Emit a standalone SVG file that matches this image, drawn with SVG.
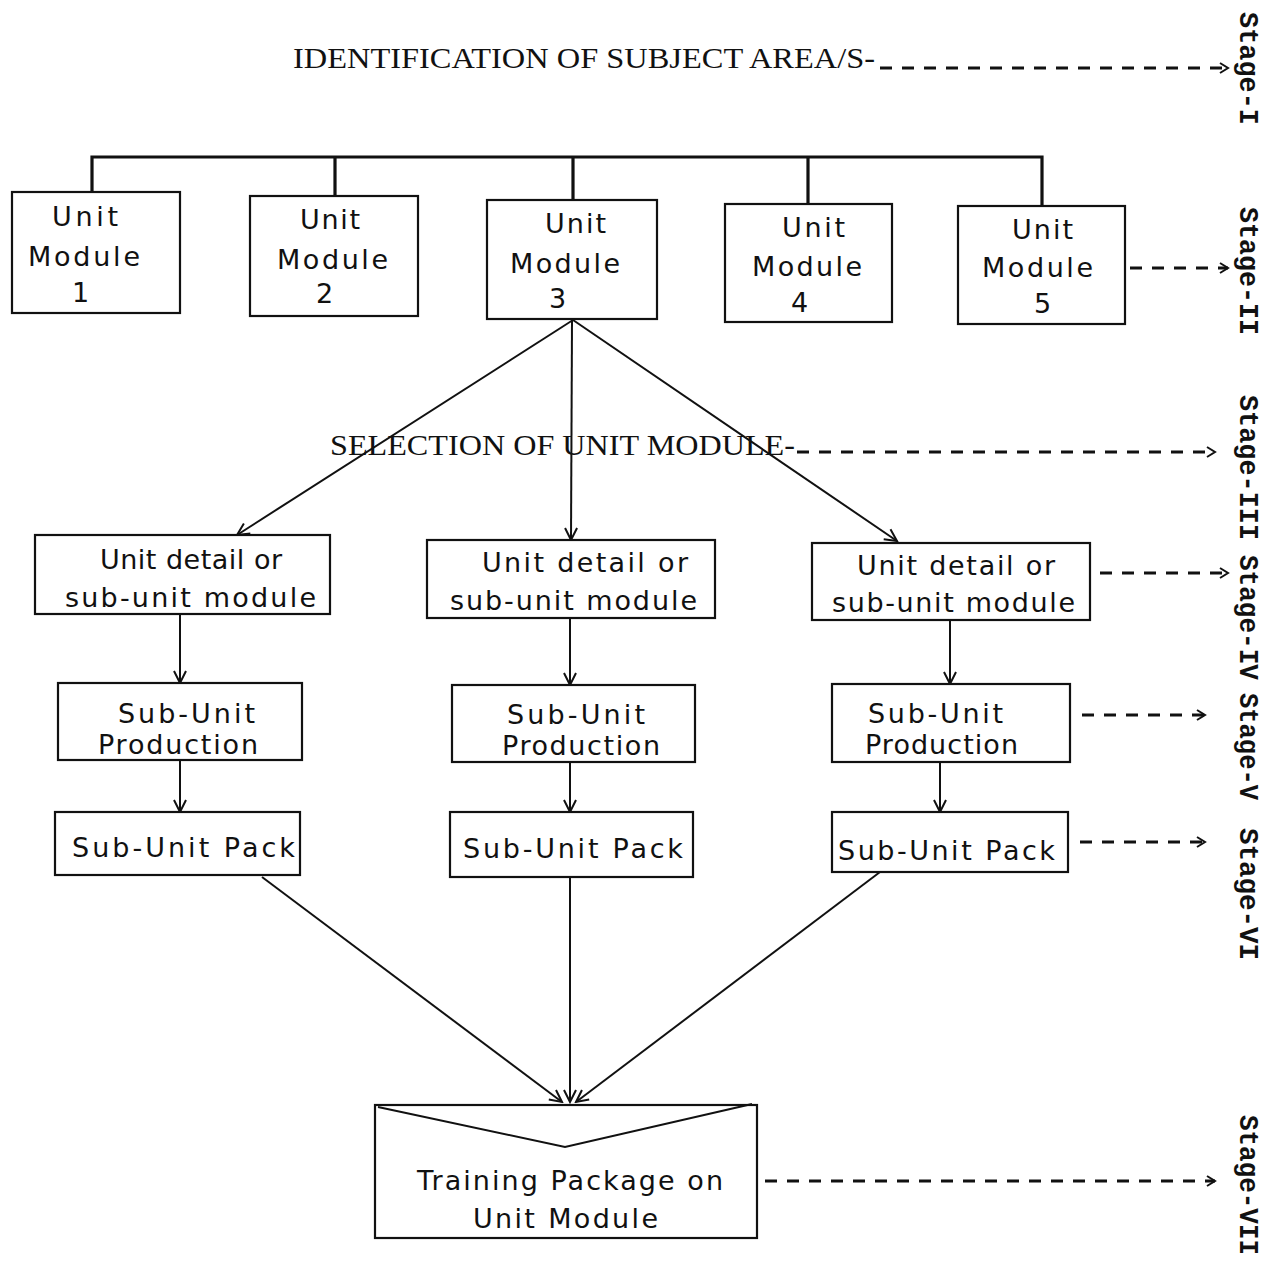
<svg xmlns="http://www.w3.org/2000/svg" width="1277" height="1263" viewBox="0 0 1277 1263">
<style>
.box{fill:#fff;stroke:#111;stroke-width:2.2}
.t{font-family:"DejaVu Sans",sans-serif;font-size:27px;fill:#111}
.ser{font-family:"Liberation Serif",serif;font-size:30px;fill:#111}
.stg{font-family:"Liberation Mono",monospace;font-size:27px;font-weight:bold;fill:#111}
.ln{stroke:#111;stroke-width:2;fill:none}
.bus{stroke:#111;stroke-width:3.2;fill:none}
.dash{stroke:#111;stroke-width:3;fill:none;stroke-dasharray:12 10}
</style>
<defs>
<marker id="ah" markerWidth="16" markerHeight="16" refX="14" refY="8" orient="auto" markerUnits="userSpaceOnUse">
<path d="M2,2 L14,8 L2,14" fill="none" stroke="#111" stroke-width="2"/>
</marker>
<marker id="ahs" markerWidth="12" markerHeight="12" refX="10" refY="6" orient="auto" markerUnits="userSpaceOnUse">
<path d="M2,1 L10,6 L2,11" fill="none" stroke="#111" stroke-width="2"/>
</marker>
</defs>
<rect width="1277" height="1263" fill="#fff"/>

<g id="connectors">
<path class="bus" d="M92,191 V157 H1042 V206"/>
<path class="bus" d="M335,157 V196 M573,157 V200 M808,157 V204"/>
<path class="ln" d="M573,320 L237,535" marker-end="url(#ah)"/>
<path class="ln" d="M572,320 L571,540" marker-end="url(#ah)"/>
<path class="ln" d="M573,320 L897,541" marker-end="url(#ah)"/>
<path class="ln" d="M180,614 V683" marker-end="url(#ah)"/>
<path class="ln" d="M180,760 V812" marker-end="url(#ah)"/>
<path class="ln" d="M570,618 V685" marker-end="url(#ah)"/>
<path class="ln" d="M570,762 V812" marker-end="url(#ah)"/>
<path class="ln" d="M950,620 V684" marker-end="url(#ah)"/>
<path class="ln" d="M940,762 V812" marker-end="url(#ah)"/>
<path class="ln" d="M262,877 L562,1102" marker-end="url(#ah)"/>
<path class="ln" d="M570,877 V1102" marker-end="url(#ah)"/>
<path class="ln" d="M880,872 L576,1102" marker-end="url(#ah)"/>
<path class="dash" d="M880,68 H1228" marker-end="url(#ahs)"/>
<path class="dash" d="M1130,268 H1228" marker-end="url(#ahs)"/>
<path class="dash" d="M797,452 H1215" marker-end="url(#ahs)"/>
<path class="dash" d="M1100,573 H1228" marker-end="url(#ahs)"/>
<path class="dash" d="M1082,715 H1205" marker-end="url(#ahs)"/>
<path class="dash" d="M1080,842 H1205" marker-end="url(#ahs)"/>
<path class="dash" d="M765,1181 H1215" marker-end="url(#ahs)"/>
</g>

<g id="title">
<text class="ser" x="293" y="68" textLength="582" lengthAdjust="spacingAndGlyphs">IDENTIFICATION OF SUBJECT AREA/S-</text>
</g>
<g id="selection">
<text class="ser" x="330" y="455" textLength="465" lengthAdjust="spacingAndGlyphs">SELECTION OF UNIT MODULE-</text>
</g>

<g id="um1"><rect class="box" x="12" y="192" width="168" height="121"/>
<text class="t" x="52" y="226" textLength="66">Unit</text><text class="t" x="28" y="266" textLength="112">Module</text><text class="t" x="72" y="302">1</text></g>
<g id="um2"><rect class="box" x="250" y="196" width="168" height="120"/>
<text class="t" x="300" y="229" textLength="60">Unit</text><text class="t" x="277" y="269" textLength="111">Module</text><text class="t" x="316" y="303">2</text></g>
<g id="um3"><rect class="box" x="487" y="200" width="170" height="119"/>
<text class="t" x="545" y="233" textLength="61">Unit</text><text class="t" x="510" y="273" textLength="110">Module</text><text class="t" x="549" y="308">3</text></g>
<g id="um4"><rect class="box" x="725" y="204" width="167" height="118"/>
<text class="t" x="782" y="237" textLength="63">Unit</text><text class="t" x="752" y="276" textLength="110">Module</text><text class="t" x="791" y="312">4</text></g>
<g id="um5"><rect class="box" x="958" y="206" width="167" height="118"/>
<text class="t" x="1012" y="239" textLength="61">Unit</text><text class="t" x="982" y="277" textLength="111">Module</text><text class="t" x="1034" y="313">5</text></g>

<g id="ud1"><rect class="box" x="35" y="535" width="295" height="79"/>
<text class="t" x="100" y="569" textLength="182">Unit detail or</text><text class="t" x="65" y="607" textLength="251">sub-unit module</text></g>
<g id="ud2"><rect class="box" x="427" y="540" width="288" height="78"/>
<text class="t" x="482" y="572" textLength="206">Unit detail or</text><text class="t" x="450" y="610" textLength="247">sub-unit module</text></g>
<g id="ud3"><rect class="box" x="812" y="543" width="278" height="77"/>
<text class="t" x="857" y="575" textLength="198">Unit detail or</text><text class="t" x="832" y="612" textLength="243">sub-unit module</text></g>

<g id="sp1"><rect class="box" x="58" y="683" width="244" height="77"/>
<text class="t" x="118" y="723" textLength="137">Sub-Unit</text><text class="t" x="98" y="754" textLength="160">Production</text></g>
<g id="sp2"><rect class="box" x="452" y="685" width="243" height="77"/>
<text class="t" x="507" y="724" textLength="138">Sub-Unit</text><text class="t" x="502" y="755" textLength="158">Production</text></g>
<g id="sp3"><rect class="box" x="832" y="684" width="238" height="78"/>
<text class="t" x="868" y="723" textLength="135">Sub-Unit</text><text class="t" x="865" y="754" textLength="153">Production</text></g>

<g id="pk1"><rect class="box" x="55" y="812" width="245" height="63"/>
<text class="t" x="72" y="857" textLength="223">Sub-Unit Pack</text></g>
<g id="pk2"><rect class="box" x="450" y="812" width="243" height="65"/>
<text class="t" x="463" y="858" textLength="220">Sub-Unit Pack</text></g>
<g id="pk3"><rect class="box" x="832" y="812" width="236" height="60"/>
<text class="t" x="838" y="860" textLength="217">Sub-Unit Pack</text></g>

<g id="training"><rect class="box" x="375" y="1105" width="382" height="133"/>
<path class="ln" d="M378,1107 L565,1147 L752,1104"/>
<text class="t" x="417" y="1190" textLength="306">Training Package on</text>
<text class="t" x="473" y="1228" textLength="185">Unit Module</text></g>

<g id="stages">
<text class="stg" transform="translate(1240,12) rotate(90)" textLength="113" lengthAdjust="spacingAndGlyphs">Stage-I</text>
<text class="stg" transform="translate(1240,207) rotate(90)" textLength="128" lengthAdjust="spacingAndGlyphs">Stage-II</text>
<text class="stg" transform="translate(1240,395) rotate(90)" textLength="145" lengthAdjust="spacingAndGlyphs">Stage-III</text>
<text class="stg" transform="translate(1240,555) rotate(90)" textLength="125" lengthAdjust="spacingAndGlyphs">Stage-IV</text>
<text class="stg" transform="translate(1240,693) rotate(90)" textLength="107" lengthAdjust="spacingAndGlyphs">Stage-V</text>
<text class="stg" transform="translate(1240,828) rotate(90)" textLength="132" lengthAdjust="spacingAndGlyphs">Stage-VI</text>
<text class="stg" transform="translate(1240,1115) rotate(90)" textLength="140" lengthAdjust="spacingAndGlyphs">Stage-VII</text>
</g>
</svg>
